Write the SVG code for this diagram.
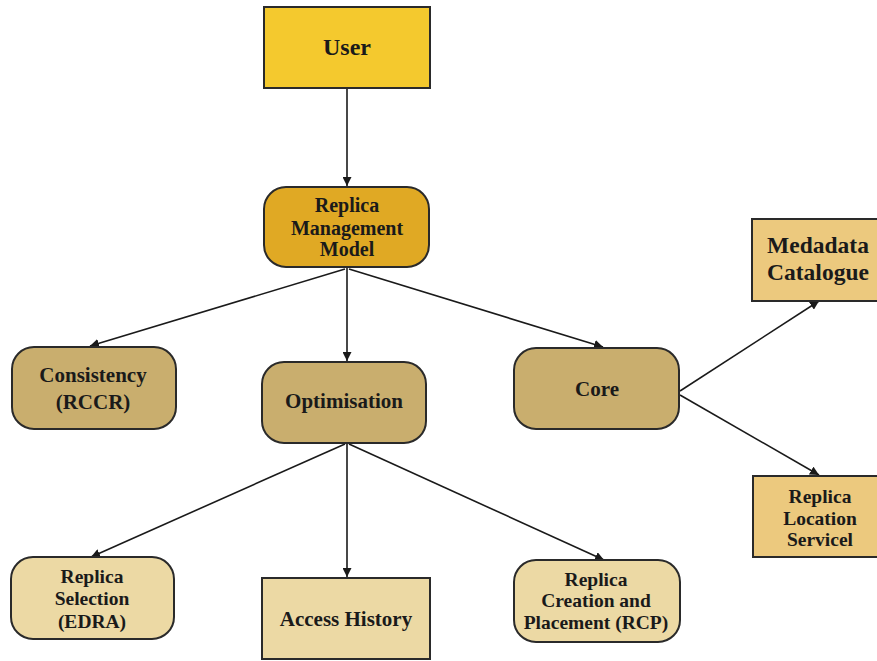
<svg xmlns="http://www.w3.org/2000/svg" width="877" height="661" viewBox="0 0 877 661">
  <defs>
    <marker id="arrow" viewBox="0 0 10 10" refX="10" refY="5" markerWidth="9" markerHeight="9" markerUnits="userSpaceOnUse" orient="auto">
      <path d="M0,0 L10,5 L0,10 z" fill="#1a1a1a"/>
    </marker>
    <style>
      .box { stroke: #2a2a2a; stroke-width: 2; }
      .lbl { font-family: "Liberation Serif", "Times New Roman", serif; font-weight: bold; fill: #1a1a1a; text-anchor: middle; }
      .edge { stroke: #1a1a1a; stroke-width: 1.6; fill: none; marker-end: url(#arrow); }
      .top { fill: #f4c92e; }
      .mid { fill: #e0a924; }
      .tan { fill: #c9ae6e; }
      .sand { fill: #ecc97e; }
      .pale { fill: #ecd9a4; }
    </style>
  </defs>
  <rect width="877" height="661" fill="#ffffff"/>

  <g id="edges">
    <line class="edge" x1="347" y1="88" x2="347" y2="186"/>
    <line class="edge" x1="345" y1="269" x2="90" y2="346"/>
    <line class="edge" x1="347" y1="268" x2="347" y2="361"/>
    <line class="edge" x1="349" y1="269" x2="603" y2="347"/>
    <line class="edge" x1="680" y1="391" x2="819" y2="301"/>
    <line class="edge" x1="680" y1="395" x2="819" y2="475"/>
    <line class="edge" x1="345" y1="444" x2="91" y2="557"/>
    <line class="edge" x1="347" y1="444" x2="347" y2="577"/>
    <line class="edge" x1="349" y1="444" x2="604" y2="560"/>
  </g>

  <g id="user">
    <rect class="box top" x="264" y="7" width="166" height="81"/>
    <text class="lbl" x="347" y="55" font-size="24">User</text>
  </g>

  <g id="replica-management-model">
    <rect class="box mid" x="264" y="187" width="165" height="80" rx="22"/>
    <text class="lbl" x="347" y="212" font-size="20">Replica</text>
    <text class="lbl" x="347" y="235" font-size="20">Management</text>
    <text class="lbl" x="347" y="256" font-size="20">Model</text>
  </g>

  <g id="consistency">
    <rect class="box tan" x="12" y="347" width="164" height="82" rx="22"/>
    <text class="lbl" x="93" y="382" font-size="21">Consistency</text>
    <text class="lbl" x="93" y="409" font-size="21">(RCCR)</text>
  </g>

  <g id="optimisation">
    <rect class="box tan" x="262" y="362" width="164" height="81" rx="22"/>
    <text class="lbl" x="344" y="408" font-size="21">Optimisation</text>
  </g>

  <g id="core">
    <rect class="box tan" x="514" y="348" width="165" height="81" rx="22"/>
    <text class="lbl" x="597" y="396" font-size="21">Core</text>
  </g>

  <g id="medadata-catalogue">
    <rect class="box sand" x="752" y="219" width="130" height="82"/>
    <text class="lbl" x="818" y="253" font-size="23.5">Medadata</text>
    <text class="lbl" x="818" y="280" font-size="23.5">Catalogue</text>
  </g>

  <g id="replica-location-service">
    <rect class="box sand" x="753" y="476" width="130" height="81"/>
    <text class="lbl" x="820" y="503" font-size="19.5">Replica</text>
    <text class="lbl" x="820" y="525" font-size="19.5">Location</text>
    <text class="lbl" x="820" y="546" font-size="19.5">Servicel</text>
  </g>

  <g id="replica-selection">
    <rect class="box pale" x="11" y="557" width="163" height="82" rx="22"/>
    <text class="lbl" x="92" y="583" font-size="19.5">Replica</text>
    <text class="lbl" x="92" y="605" font-size="19.5">Selection</text>
    <text class="lbl" x="92" y="628" font-size="19.5">(EDRA)</text>
  </g>

  <g id="access-history">
    <rect class="box pale" x="262" y="578" width="168" height="81"/>
    <text class="lbl" x="346" y="626" font-size="21">Access History</text>
  </g>

  <g id="replica-creation-placement">
    <rect class="box pale" x="514" y="560" width="166" height="82" rx="22"/>
    <text class="lbl" x="596" y="586" font-size="19.5">Replica</text>
    <text class="lbl" x="596" y="607" font-size="19.5">Creation and</text>
    <text class="lbl" x="596" y="629" font-size="19.5">Placement (RCP)</text>
  </g>
</svg>
